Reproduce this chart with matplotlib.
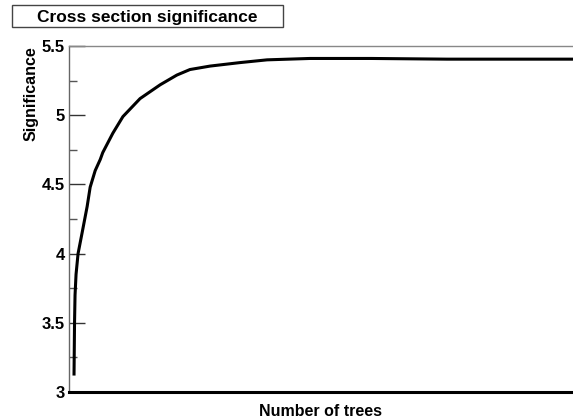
import matplotlib
matplotlib.use("Agg")
import matplotlib.pyplot as plt
from matplotlib.ticker import MultipleLocator, NullFormatter

plt.rcParams['font.family'] = ['Liberation Sans', 'DejaVu Sans']

# significance vs number of boosted trees
n_trees = [10, 11, 12, 14, 18, 26, 36, 42, 52, 62, 67, 87, 107, 141,
           181, 214, 240, 280, 339, 393, 478, 600, 750, 1000]
significance = [3.13, 3.50, 3.70, 3.85, 4.00, 4.15, 4.34, 4.48, 4.60, 4.68,
                4.73, 4.87, 4.99, 5.12, 5.22, 5.29, 5.33, 5.355, 5.38,
                5.40, 5.41, 5.41, 5.405, 5.405]

fig = plt.figure(figsize=(5.73, 4.19), dpi=100)
ax = fig.add_axes([0.1204, 0.0644, 0.8796, 0.8258])

ax.plot(n_trees, significance, color='black', lw=2.2, solid_joinstyle='round')

ax.set_xlim(0, 1000)
ax.set_ylim(3, 5.5)
ax.yaxis.set_minor_locator(MultipleLocator(0.25))
ax.set_yticks([3, 3.5, 4, 4.5, 5, 5.5])
ax.set_yticklabels(['3', '3.5', '4', '4.5', '5', '5.5'])
ax.xaxis.set_major_formatter(NullFormatter())
ax.tick_params(axis='x', which='both', length=0)
ax.tick_params(axis='y', which='major', direction='in', length=11.5,
               width=1.0, color='#333333', labelsize=12, pad=3)
ax.tick_params(axis='y', which='minor', direction='in', length=5.8,
               width=1.0, color='#555555')
for lab in ax.get_yticklabels():
    lab.set_fontweight('bold')

ax.spines['right'].set_visible(False)
ax.spines['top'].set_color('#888888')
ax.spines['top'].set_linewidth(1.0)
ax.spines['left'].set_color('#666666')
ax.spines['left'].set_linewidth(1.0)
ax.spines['bottom'].set_color('black')
ax.spines['bottom'].set_linewidth(2.2)

ax.set_xlabel('Number of trees', fontsize=11.5, fontweight='bold', labelpad=5)
ax.set_ylabel('Significance', fontsize=11.5, fontweight='bold')
ax.yaxis.set_label_coords(-0.075, 1.0)
ax.yaxis.label.set_ha('right')
ax.yaxis.label.set_va('center')

# title box
fig.text(0.257, 0.958, 'Cross section significance', ha='center', va='center',
         fontsize=12.5, fontweight='bold')
fig.patches.append(plt.Rectangle((12 / 573, 1 - 27 / 419), 271 / 573, 22 / 419,
                                 transform=fig.transFigure, fill=False,
                                 ec='#444444', lw=1.0))

fig.savefig('out.png', dpi=100)
